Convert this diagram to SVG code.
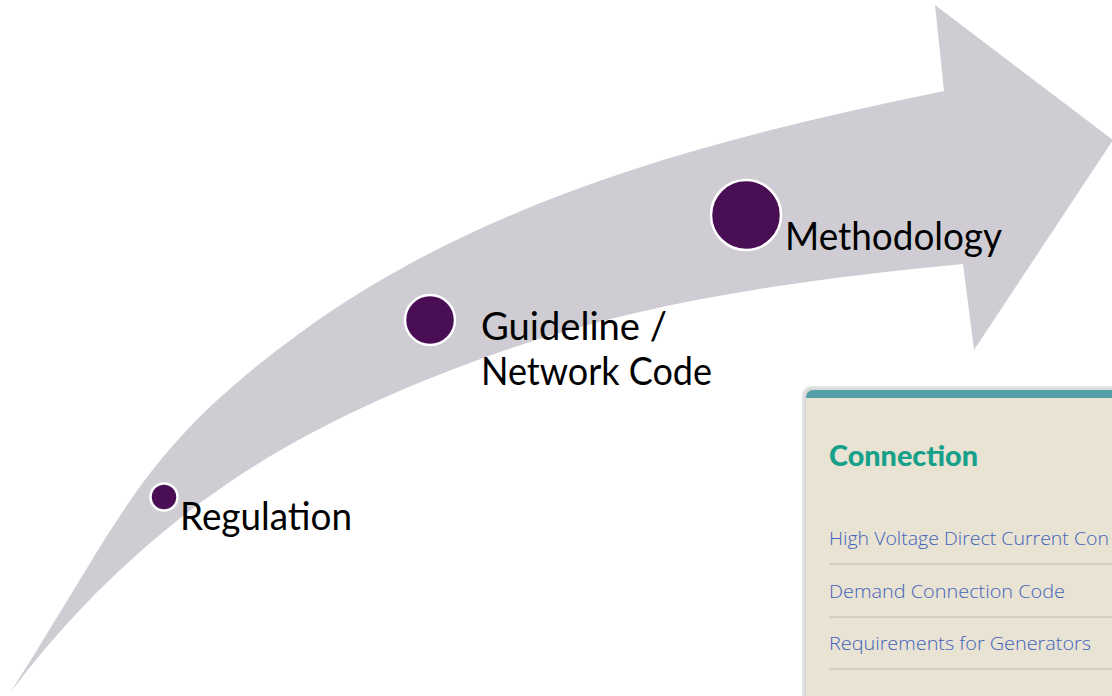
<svg xmlns="http://www.w3.org/2000/svg" width="1112" height="696" viewBox="0 0 1112 696">
  <style>
    .lbl { font-family: Lato, "Noto Sans", "Liberation Sans", sans-serif; font-size: 38px; fill: #000000; }
    .dot { fill: #4a0e55; stroke: #ffffff; stroke-width: 2.5; }
    .link { font-family: "Open Sans", "Noto Sans", "Liberation Sans", sans-serif; font-size: 19px; fill: #4262bd; font-weight: 300; }
    .sep { stroke: #d4cfbf; stroke-width: 2; }
  </style>
  <defs>
    <clipPath id="cardClip">
      <rect x="806" y="390" width="330" height="330" rx="7" ry="7"/>
    </clipPath>
  </defs>
  <rect x="0" y="0" width="1112" height="696" fill="#ffffff"/>

  <g id="connectors">
    <path id="arrow" fill="#cfcdd3" d="M10,693 C125,513 140,450 300,333 C486,197 719,137 944,91 L935,5 L1113,140 L974,350 L963,264 C807,279 648,300 500,352 C395,389 290,436 200,503 C112,569 52,637 10,693 Z"/>
  </g>

  <g id="node-regulation">
    <circle class="dot" cx="164" cy="497" r="13.5"/>
    <text class="lbl" x="180" y="530" textLength="172" lengthAdjust="spacingAndGlyphs">Regulation</text>
  </g>

  <g id="node-guideline">
    <circle class="dot" cx="430" cy="320" r="25"/>
    <text class="lbl" x="481" y="340" textLength="186" lengthAdjust="spacingAndGlyphs">Guideline /</text>
    <text class="lbl" x="481" y="385" textLength="231" lengthAdjust="spacingAndGlyphs">Network Code</text>
  </g>

  <g id="node-methodology">
    <circle class="dot" cx="746" cy="215" r="35"/>
    <text class="lbl" x="785" y="250" textLength="217" lengthAdjust="spacingAndGlyphs">Methodology</text>
  </g>

  <g id="node-connection-card">
    <rect x="802" y="386" width="330" height="330" rx="9" ry="9" fill="#e4e4e4"/>
    <rect x="804" y="388" width="330" height="330" rx="8" ry="8" fill="#d9d9d9"/>
    <g clip-path="url(#cardClip)">
      <rect x="806" y="390" width="330" height="330" fill="#e8e3d2"/>
      <rect x="806" y="390" width="330" height="8" fill="#53a1a6"/>
    </g>
    <text x="829" y="466" font-family="Lato, 'Noto Sans', 'Liberation Sans', sans-serif" font-size="28" font-weight="900" fill="#17a08a" textLength="149" lengthAdjust="spacingAndGlyphs">Connection</text>
    <text class="link" x="829" y="545" textLength="280" lengthAdjust="spacingAndGlyphs">High Voltage Direct Current Con</text>
    <line class="sep" x1="829" y1="564" x2="1112" y2="564"/>
    <text class="link" x="829" y="598" textLength="236" lengthAdjust="spacingAndGlyphs">Demand Connection Code</text>
    <line class="sep" x1="829" y1="617" x2="1112" y2="617"/>
    <text class="link" x="829" y="650" textLength="262" lengthAdjust="spacingAndGlyphs">Requirements for Generators</text>
    <line class="sep" x1="829" y1="669" x2="1112" y2="669"/>
  </g>
</svg>
